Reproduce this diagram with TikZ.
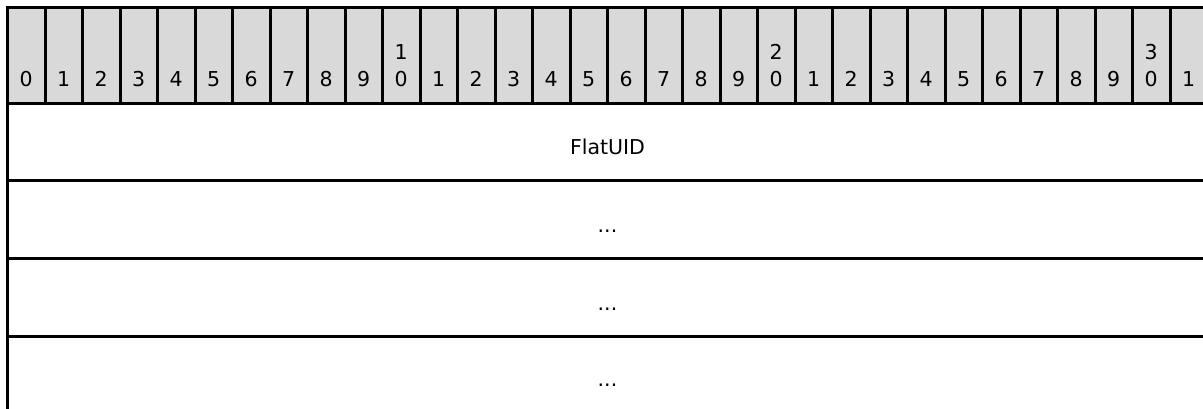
\documentclass[tikz,border=0pt]{standalone}
\usepackage{fontspec}
\setmainfont{DejaVu Sans}
\definecolor{hdrgray}{RGB}{217,217,217}
\begin{document}
\begin{tikzpicture}[x=1pt,y=-1pt,
  grid/.style={line width=3pt, draw=black},
  lbl/.style={inner sep=0pt, anchor=base, text=black, font=\fontsize{20.5}{25}\selectfont}]
\useasboundingbox (0,0) rectangle (1203,409);
\clip (0,0) rectangle (1203,409);
\fill[hdrgray] (7.5,8) rectangle (1207.5,104);
\foreach \i in {0,...,32}{
  \draw[grid] (7.5+37.5*\i,8) -- (7.5+37.5*\i,104);
}
\foreach \yy in {8,104,181,258.5,336}{
  \draw[grid] (6,\yy) -- (1212,\yy);
}
\draw[grid] (7.5,6.5) -- (7.5,415);
\foreach \i in {0,...,31}{
  \pgfmathsetmacro\cx{26.25+37.5*\i}
  \pgfmathtruncatemacro\dd{mod(\i,10)}
  \pgfmathtruncatemacro\tt{\i/10}
  \ifnum\i>9 \ifnum\dd=0 \node[lbl] (t\i) at (\cx,60) {\tt}; \fi\fi
  \node[lbl] (h\i) at (\cx,86.5) {\dd};
}
\node[lbl] (r1) at (607.5,155) {FlatUID};
\node[lbl] (r2) at (607.5,233) {...};
\node[lbl] (r3) at (607.5,310.5) {...};
\node[lbl] (r4) at (607.5,386) {...};
\end{tikzpicture}
\end{document}
